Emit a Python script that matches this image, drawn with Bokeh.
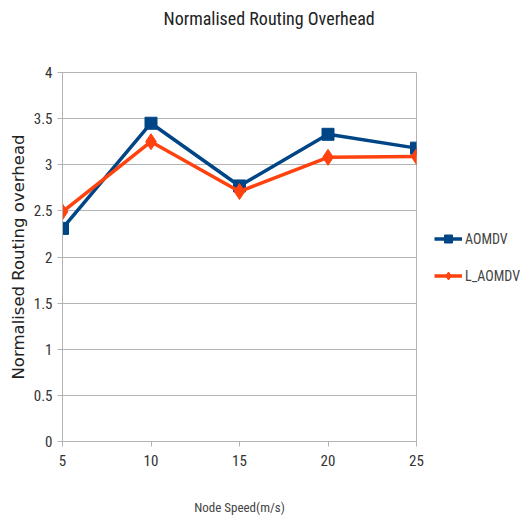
from bokeh.plotting import figure
from bokeh.models import Range1d, Legend, LegendItem, FixedTicker, Title
from bokeh.embed import file_html
from bokeh.resources import INLINE

speeds = [5, 10, 15, 20, 25]
aomdv = [2.31, 3.45, 2.77, 3.33, 3.18]
l_aomdv = [2.49, 3.25, 2.71, 3.08, 3.09]
y_ticks = [0, 0.5, 1, 1.5, 2, 2.5, 3, 3.5, 4]

NARROW = "Liberation Sans Narrow, Arial Narrow, Roboto Condensed, Liberation Sans, sans-serif"

p = figure(frame_width=354, frame_height=369, output_backend="svg", toolbar_location=None,
           x_range=Range1d(5, 25), y_range=Range1d(0, 4),
           min_border_left=62, min_border_right=0, min_border_top=72, min_border_bottom=86,
           title="Normalised Routing Overhead")
p.title.align = "left"
p.title.offset = 101
p.title.text_font = NARROW
p.title.text_font_size = "18px"
p.title.text_font_style = "normal"
p.title.text_color = "#222222"
p.add_layout(Title(text=" ", text_font_size="24px"), "above")
p.background_fill_color = "white"
p.border_fill_color = "white"
p.outline_line_color = "#b3b3b3"

p.xaxis.ticker = FixedTicker(ticks=speeds)
p.yaxis.ticker = FixedTicker(ticks=y_ticks)
p.yaxis.major_label_overrides = {0: "0", 0.5: "0.5", 1: "1", 1.5: "1.5", 2: "2", 2.5: "2.5", 3: "3", 3.5: "3.5", 4: "4"}
for ax in (p.xaxis, p.yaxis):
    ax.axis_line_color = "#b3b3b3"
    ax.major_tick_line_color = "#b3b3b3"
    ax.major_tick_out = 5
    ax.major_tick_in = 0
    ax.minor_tick_line_color = None
    ax.major_label_text_font = NARROW
    ax.major_label_text_font_size = "15px"
    ax.major_label_text_color = "#333333"
p.xaxis.major_label_standoff = 8
p.yaxis.major_label_standoff = 5
p.xaxis.axis_label = "Node Speed(m/s)"
p.xaxis.axis_label_text_font = NARROW
p.xaxis.axis_label_text_font_size = "13px"
p.xaxis.axis_label_text_font_style = "normal"
p.xaxis.axis_label_standoff = 31
p.yaxis.axis_label = "Normalised Routing overhead"
p.yaxis.axis_label_text_font = "DejaVu Sans"
p.yaxis.axis_label_text_font_size = "16.5px"
p.yaxis.axis_label_text_font_style = "normal"
p.yaxis.axis_label_text_color = "#222222"
p.yaxis.axis_label_standoff = 3

p.xgrid.grid_line_color = None
p.ygrid.grid_line_color = "#b3b3b3"

blue = "#004586"
orange = "#ff420e"
l1 = p.line(speeds, aomdv, line_color=blue, line_width=3.5)
m1 = p.scatter(speeds, aomdv, marker="square", size=12, fill_color=blue, line_color=blue)
l2 = p.line(speeds, l_aomdv, line_color=orange, line_width=3.5)
m2 = p.scatter(speeds, l_aomdv, marker="diamond", size=16, fill_color=orange, line_color=orange)

legend = Legend(items=[LegendItem(label="AOMDV", renderers=[l1, m1]),
                       LegendItem(label="L_AOMDV", renderers=[l2, m2])],
                location="center_left", border_line_color=None, background_fill_alpha=0,
                label_text_font=NARROW, label_text_font_size="14px",
                glyph_width=28, label_standoff=3, spacing=17, padding=0, margin=18)
p.add_layout(legend, "right")

open("out.html", "w").write(file_html(p, INLINE))
